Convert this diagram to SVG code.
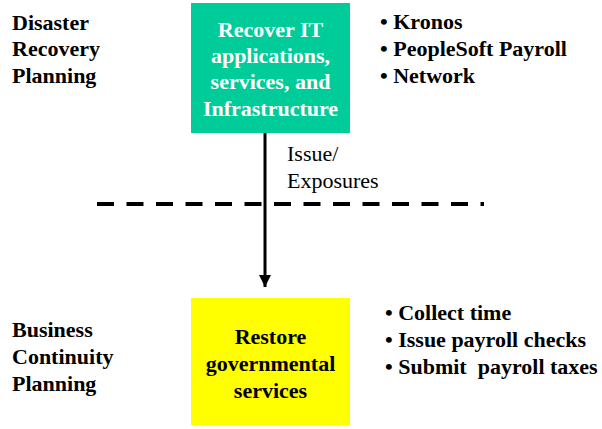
<svg xmlns="http://www.w3.org/2000/svg" width="602" height="429" viewBox="0 0 602 429">
<defs>
<marker id="ah" markerWidth="12" markerHeight="12" refX="12" refY="6" orient="auto" markerUnits="userSpaceOnUse" viewBox="0 0 12 12">
<path d="M0,0 L12,6 L0,12 Z" fill="#000"/>
</marker>
</defs>
<rect width="602" height="429" fill="#fff"/>
<g id="labels" font-family="Liberation Serif" font-size="22" font-weight="bold" fill="#000">
<text x="12" y="30">Disaster</text>
<text x="12" y="56">Recovery</text>
<text x="12" y="83">Planning</text>
<text x="12" y="337">Business</text>
<text x="12" y="364">Continuity</text>
<text x="12" y="391">Planning</text>
</g>
<g id="divider">
<line x1="97" y1="204" x2="484" y2="204" stroke="#000" stroke-width="4" stroke-dasharray="17 12.5"/>
</g>
<g id="connectors" font-family="Liberation Serif" font-size="22" fill="#000">
<line x1="265" y1="133" x2="265" y2="287" stroke="#000" stroke-width="3" marker-end="url(#ah)"/>
<text x="287" y="161">Issue/</text>
<text x="287" y="188">Exposures</text>
</g>
<g id="recover" font-family="Liberation Serif" font-size="22" font-weight="bold" fill="#fff" text-anchor="middle">
<rect x="191" y="3" width="159" height="130" fill="#00CC99"/>
<text x="270.5" y="37">Recover IT</text>
<text x="270.5" y="63">applications,</text>
<text x="270.5" y="89">services, and</text>
<text x="270.5" y="116">Infrastructure</text>
</g>
<g id="restore" font-family="Liberation Serif" font-size="22" font-weight="bold" fill="#000" text-anchor="middle">
<rect x="191" y="298" width="159" height="127" fill="#FFFF00"/>
<text x="270.5" y="344">Restore</text>
<text x="270.5" y="371">governmental</text>
<text x="270.5" y="398">services</text>
</g>
<g id="it-list" font-family="Liberation Serif" font-size="22" font-weight="bold" fill="#000">
<text x="380" y="29">• Kronos</text>
<text x="380" y="56">• PeopleSoft Payroll</text>
<text x="380" y="83">• Network</text>
</g>
<g id="services-list" font-family="Liberation Serif" font-size="22" font-weight="bold" fill="#000">
<text x="385" y="320">• Collect time</text>
<text x="385" y="347">• Issue payroll checks</text>
<text x="385" y="374" xml:space="preserve">• Submit  payroll taxes</text>
</g>
</svg>
